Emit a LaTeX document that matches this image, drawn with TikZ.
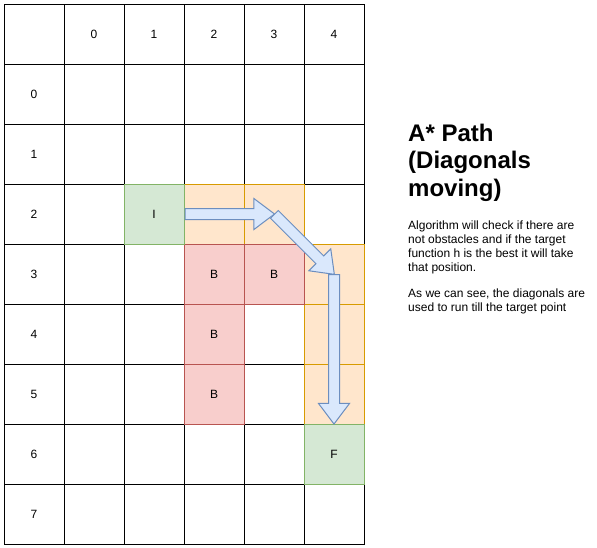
\documentclass[tikz,border=0pt]{standalone}
\usepackage{fontspec}
\setmainfont{Liberation Sans}
\usetikzlibrary{shapes.arrows,calc}
\definecolor{orfill}{HTML}{FFE6CC}
\definecolor{ordraw}{HTML}{D79B00}
\definecolor{rdfill}{HTML}{F8CECC}
\definecolor{rddraw}{HTML}{B85450}
\definecolor{grfill}{HTML}{D5E8D4}
\definecolor{grdraw}{HTML}{82B366}
\definecolor{blfill}{HTML}{DAE8FC}
\definecolor{bldraw}{HTML}{6C8EBF}
\begin{document}
\begin{tikzpicture}[x=1pt,y=-1pt,
  cell/.style={draw=black, fill=white, line width=1pt, minimum size=60pt, inner sep=0pt, font=\fontsize{12}{14}\selectfont},
  pathcell/.style={cell, fill=orfill, draw=ordraw},
  blockcell/.style={cell, fill=rdfill, draw=rddraw},
  endcell/.style={cell, fill=grfill, draw=grdraw},
  flow/.style={single arrow, draw=bldraw, fill=blfill, line width=1pt, inner xsep=0pt, inner ysep=5pt, single arrow head extend=10pt, single arrow tip angle=74, anchor=tail},
  title/.style={anchor=base west, align=left, inner sep=0pt, font=\fontsize{24}{27.5}\selectfont\bfseries},
  body/.style={anchor=base west, align=left, inner sep=0pt, font=\fontsize{12}{13.7}\selectfont}]
\useasboundingbox (0,0) rectangle (597,547);
% grid
\node[cell] (g-0-0) at (34,34) {};
\foreach \c [evaluate=\c as \t using int(\c-1)] in {1,...,5}
  \node[cell] (g-\c-0) at ({34+60*\c},34) {\t};
\foreach \r [evaluate=\r as \t using int(\r-1)] in {1,...,8}
  \node[cell] (g-0-\r) at (34,{34+60*\r}) {\t};
\foreach \c in {1,...,5}
  \foreach \r in {1,...,8}
    \node[cell] (g-\c-\r) at ({34+60*\c},{34+60*\r}) {};
% path cells
\node[pathcell] (o1) at (g-3-3) {};
\node[pathcell] (o2) at (g-4-3) {};
\node[pathcell] (o3) at (g-5-4) {};
\node[pathcell] (o4) at (g-5-5) {};
\node[pathcell] (o5) at (g-5-6) {};
% obstacles
\node[blockcell] (b1) at (g-3-4) {B};
\node[blockcell] (b2) at (g-4-4) {B};
\node[blockcell] (b3) at (g-3-5) {B};
\node[blockcell] (b4) at (g-3-6) {B};
% start and goal
\node[endcell] (start) at (g-2-3) {I};
\node[endcell] (goal) at (g-5-7) {F};
% arrows
\path let \p1=(start.east), \p2=(o2.center) in (\p1)
  node[flow, minimum height={veclen(\x2-\x1,\y2-\y1)}, rotate={atan2(\y2-\y1,\x2-\x1)}] (a1) {};
\path let \p1=(o2.center), \p2=(o3.center) in (\p1)
  node[flow, minimum height={veclen(\x2-\x1,\y2-\y1)}, rotate={atan2(\y2-\y1,\x2-\x1)}] (a2) {};
\path let \p1=(o3.center), \p2=(goal.north) in (\p1)
  node[flow, minimum height={veclen(\x2-\x1,\y2-\y1)}, rotate={atan2(\y2-\y1,\x2-\x1)}] (a3) {};
% text
\node[title] (head) at (408,196) {A* Path\\(Diagonals\\moving)};
\node[body] (p1) at (408,271) {Algorithm will check if there are\\not obstacles and if the target\\function h is the best it will take\\that position.};
\node[body] (p2) at (408,311) {As we can see, the diagonals are\\used to run till the target point};
\end{tikzpicture}
\end{document}
